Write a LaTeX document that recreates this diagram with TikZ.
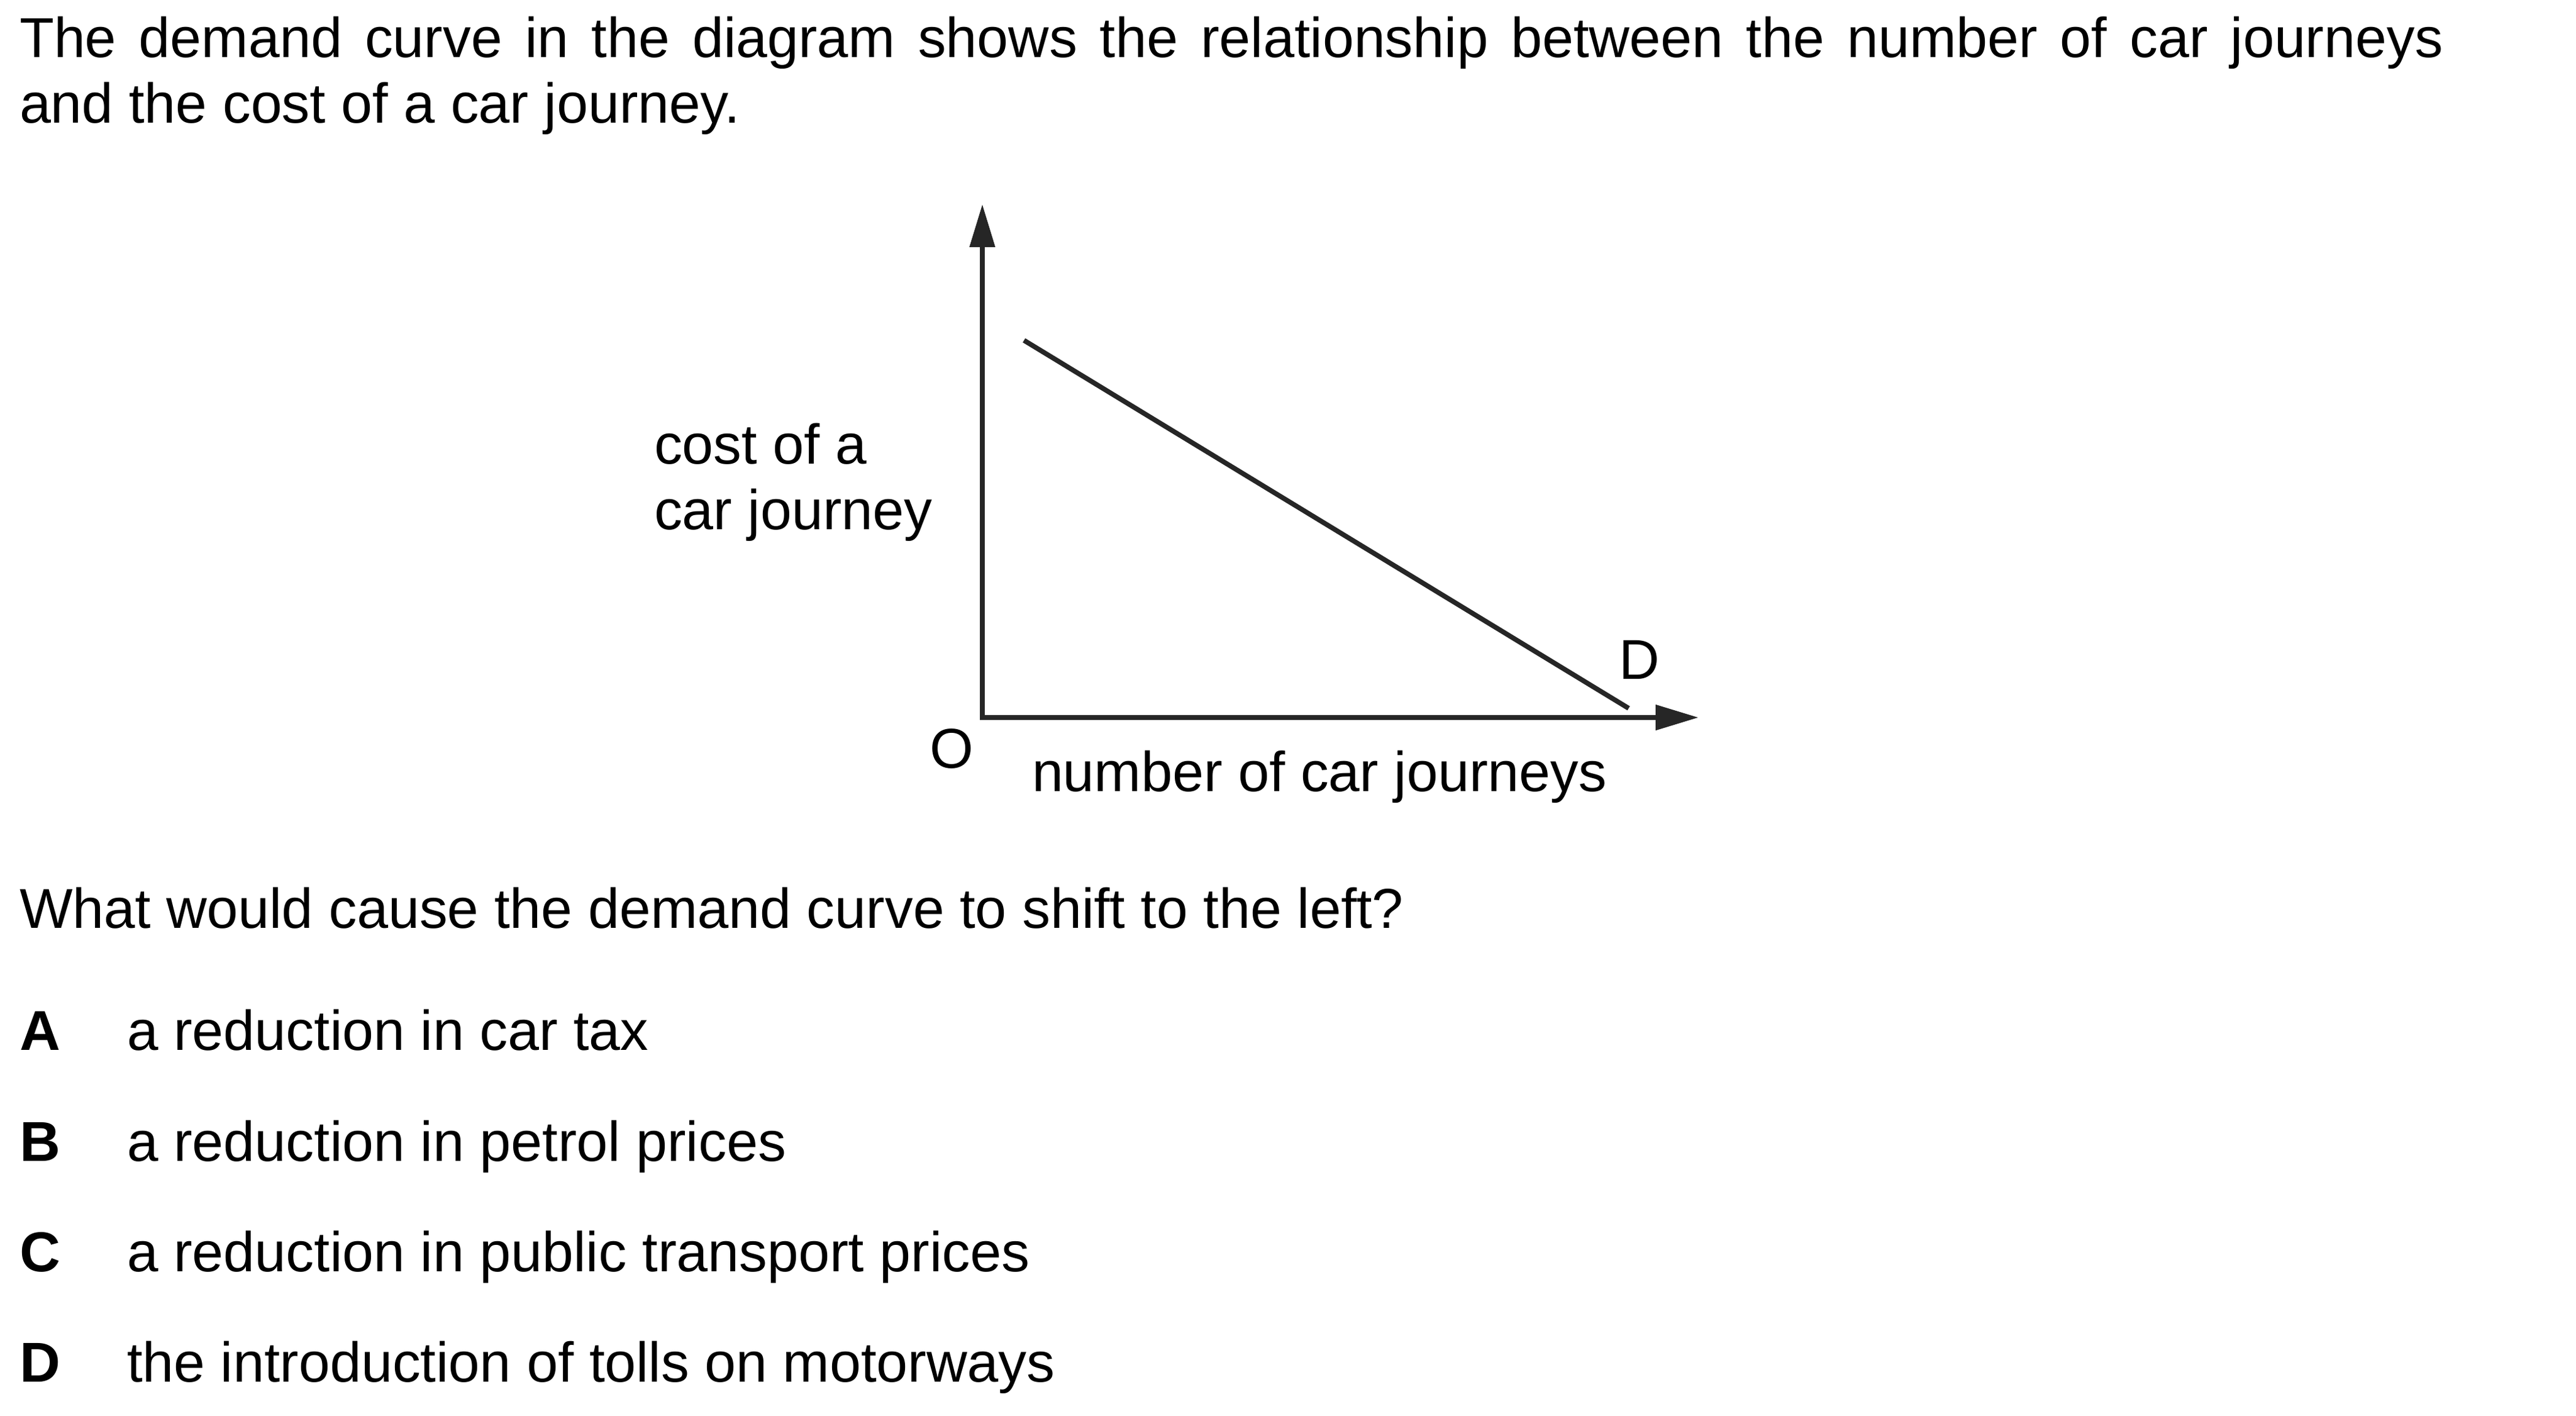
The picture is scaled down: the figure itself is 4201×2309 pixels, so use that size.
\documentclass[tikz,border=0pt]{standalone}
\usepackage{fontspec}
\setmainfont{Liberation Sans}
\usetikzlibrary{arrows.meta}
\tikzset{
  txt/.style={anchor=base west, inner sep=0pt, outer sep=0pt, font=\fontsize{22}{26}\selectfont},
  opt/.style={txt, font=\fontsize{22}{26}\selectfont\bfseries},
  axisline/.style={line width=1.9pt, draw=black!85, line join=miter,
    {Triangle[length=16.8pt,width=9.6pt]}-{Triangle[length=16.8pt,width=9.6pt]}},
  demandline/.style={line width=1.9pt, draw=black!85}
}
\begin{document}
\begin{tikzpicture}[x=0.24pt, y=-0.24pt]
\useasboundingbox (0,0) rectangle (4201,2309);
% intro text
\node[txt] (l1) at (32,94) {\makebox[948.7pt][s]{The demand curve in the diagram shows the relationship between the number of car journeys}};
\node[txt] (l2) at (32,201) {and the cost of a car journey.};
% graph
\coordinate (O) at (1602,1170);
\coordinate (ytip) at (1602,333);
\coordinate (xtip) at (2770,1170);
\draw[axisline] (ytip) -- (O) -- (xtip);
\coordinate (d1) at (1670,555);
\coordinate (d2) at (2656,1155);
\draw[demandline] (d1) -- (d2);
\node[txt] (ylab1) at (1067,756) {cost of a};
\node[txt] (ylab2) at (1067,863) {car journey};
\node[txt] (olab) at (1516,1252) {O};
\node[txt] (xlab) at (1683,1290) {number of car journeys};
\node[txt] (dlab) at (2640,1107) {D};
% question
\node[txt] (q) at (32,1513) {What would cause the demand curve to shift to the left?};
\node[opt] (A) at (32,1712) {A};
\node[txt] (Atxt) at (207,1712) {a reduction in car tax};
\node[opt] (B) at (32,1893) {B};
\node[txt] (Btxt) at (207,1893) {a reduction in petrol prices};
\node[opt] (C) at (32,2073) {C};
\node[txt] (Ctxt) at (207,2073) {a reduction in public transport prices};
\node[opt] (D) at (32,2253) {D};
\node[txt] (Dtxt) at (207,2253) {the introduction of tolls on motorways};
\end{tikzpicture}
\end{document}
